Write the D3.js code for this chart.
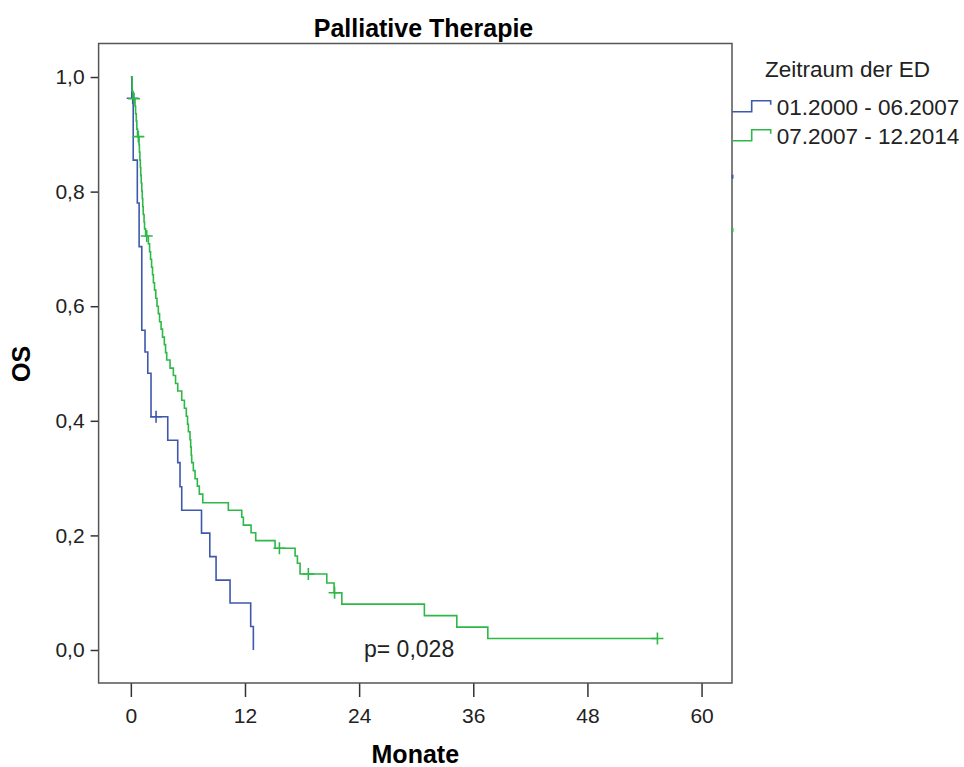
<!DOCTYPE html>
<html>
<head>
<meta charset="utf-8">
<script src="https://cdn.jsdelivr.net/npm/d3@7"></script>
<style>
  body { margin: 0; background: #fff; }
  svg { display: block; }
  text { font-family: "Liberation Sans", Arial, sans-serif; fill: #222; }
</style>
</head>
<body>
<svg id="chart" width="964" height="767"></svg>
<script>
// Kaplan–Meier estimates, overall survival (months) by period of first diagnosis
const groupNames = ["01.2000 - 06.2007", "07.2007 - 12.2014"];
const groupColors = ["#3E58AC", "#2EB848"];

// Group 1: 01.2000 - 06.2007 (event times and survival after each event)
const g1Times = [0.1, 0.25, 0.68, 0.87, 1.15, 1.49, 1.78, 2.12, 3.88, 4.93, 5.17, 5.35,
                 7.43, 8.3, 8.96, 10.43, 12.6, 12.88];
const g1Surv  = [0.963, 0.855, 0.78, 0.704, 0.558, 0.52, 0.483, 0.407, 0.366, 0.327, 0.285, 0.244,
                 0.204, 0.163, 0.122, 0.082, 0.041, 0];
const g1Censored = [0.2, 2.65];

// Group 2: 07.2007 - 12.2014
const g2Times = [0.13, 0.23, 0.44, 0.5, 0.57, 0.63, 0.7, 0.86, 0.9, 0.95, 1.0, 1.04, 1.09, 1.15,
                 1.2, 1.25, 1.3, 1.39, 1.44, 1.55, 1.84, 1.97, 2.07, 2.18, 2.28, 2.37, 2.49, 2.62,
                 2.75, 2.89, 3.02, 3.18, 3.33, 3.52, 3.65, 3.77, 4.12, 4.47, 4.7, 4.93, 5.35, 5.63,
                 5.83, 5.96, 6.05, 6.22, 6.29, 6.35, 6.4, 6.57, 6.75, 6.99, 7.2, 7.56, 10.25, 11.66,
                 11.83, 12.64, 13.13, 15.16, 17.27, 17.51, 17.79, 20.6, 21.37, 22.18, 30.86, 34.27, 37.53];
const g2Surv  = [0.975, 0.962, 0.949, 0.936, 0.923, 0.909, 0.896, 0.882, 0.869, 0.855, 0.842, 0.828,
                 0.815, 0.801, 0.788, 0.774, 0.76, 0.747, 0.735, 0.7225, 0.709, 0.695, 0.682, 0.668,
                 0.655, 0.641, 0.628, 0.614, 0.6, 0.587, 0.573, 0.56, 0.546, 0.533, 0.519, 0.506,
                 0.492, 0.479, 0.465, 0.452, 0.436, 0.422, 0.408, 0.394, 0.381, 0.367, 0.354, 0.34,
                 0.327, 0.313, 0.299, 0.286, 0.272, 0.257, 0.244, 0.2316, 0.218, 0.2047, 0.1908, 0.1775,
                 0.164, 0.1513, 0.1326, 0.117, 0.1, 0.08, 0.06, 0.04, 0.02];
const g2Censored = [0.34, 0.79, 1.67, 15.62, 18.66, 21.42, 55.36];

const xTicks = [0, 12, 24, 36, 48, 60];
const yTicks = [0, 0.2, 0.4, 0.6, 0.8, 1.0];

const chartTitle = "Palliative Therapie";
const xTitle = "Monate";
const yTitle = "OS";
const legendTitle = "Zeitraum der ED";
const pText = "p= 0,028";

const svg = d3.select("#chart");

// Plot frame in pixels; data domains extend slightly past the axis ranges
const frame = { left: 98.6, right: 732, top: 43.5, bottom: 683 };
const x = d3.scaleLinear().domain([-3.39, 63.2]).range([frame.left, frame.right]);
const y = d3.scaleLinear().domain([-0.0576, 1.0585]).range([frame.bottom, frame.top]);

// Title
svg.append("text")
  .attr("x", 423.5).attr("y", 37)
  .attr("text-anchor", "middle")
  .style("font-size", "25px").style("font-weight", "bold")
  .style("fill", "#000")
  .text(chartTitle);

// Axes
const xAxis = svg.append("g")
  .attr("transform", `translate(0,${frame.bottom})`)
  .call(d3.axisBottom(x).tickValues(xTicks).tickSize(14).tickSizeOuter(0).tickPadding(11)
        .tickFormat(d3.format("d")));
xAxis.select(".domain").remove();

const yAxis = svg.append("g")
  .attr("transform", `translate(${frame.left},0)`)
  .call(d3.axisLeft(y).tickValues(yTicks).tickSize(8).tickSizeOuter(0).tickPadding(6)
        .tickFormat(d => d.toFixed(1).replace(".", ",")));
yAxis.select(".domain").remove();

[xAxis, yAxis].forEach(g => {
  g.selectAll(".tick line").attr("stroke", "#333").attr("stroke-width", 1.5);
  g.selectAll(".tick text")
    .attr("font-family", null).attr("fill", "#222")
    .style("font-size", "21px");
});

// Frame
svg.append("rect")
  .attr("x", frame.left).attr("y", frame.top)
  .attr("width", frame.right - frame.left).attr("height", frame.bottom - frame.top)
  .attr("fill", "none").attr("stroke", "#555").attr("stroke-width", 1.5);

// Axis titles
svg.append("text")
  .attr("x", (frame.left + frame.right) / 2).attr("y", 763)
  .attr("text-anchor", "middle")
  .style("font-size", "25px").style("font-weight", "bold").style("fill", "#000")
  .text(xTitle);

svg.append("text")
  .attr("transform", "translate(30,364) rotate(-90)")
  .attr("text-anchor", "middle")
  .style("font-size", "25px").style("font-weight", "bold").style("fill", "#000")
  .text(yTitle);

// Survival curves
const groups = [
  { times: g1Times, surv: g1Surv, censored: g1Censored, end: g1Times[g1Times.length - 1] },
  { times: g2Times, surv: g2Surv, censored: g2Censored, end: d3.max(g2Censored) }
];

function survAt(g, t) {
  let s = 1;
  for (let i = 0; i < g.times.length; i++) { if (g.times[i] <= t) s = g.surv[i]; }
  return s;
}

const line = d3.line()
  .x(d => x(d[0])).y(d => y(d[1]))
  .curve(d3.curveStepAfter);

const plot = svg.append("g");
groups.forEach((g, i) => {
  const pts = [[0, 1]].concat(g.times.map((t, k) => [t, g.surv[k]]));
  if (g.end > pts[pts.length - 1][0]) pts.push([g.end, survAt(g, g.end)]);
  plot.append("path")
    .attr("d", line(pts))
    .attr("fill", "none")
    .attr("stroke", groupColors[i])
    .attr("stroke-width", 1.6);

  plot.selectAll(null)
    .data(g.censored)
    .enter().append("path")
    .attr("d", t => {
      const cx = x(t), cy = y(survAt(g, t));
      return `M${cx - 6},${cy}H${cx + 6}M${cx},${cy - 6}V${cy + 6}`;
    })
    .attr("stroke", groupColors[i])
    .attr("stroke-width", 1.6)
    .attr("fill", "none");
});

// p-value annotation
svg.append("text")
  .attr("x", 364).attr("y", 657)
  .style("font-size", "23px")
  .text(pText);

// Legend
const legend = svg.append("g");
legend.append("text")
  .attr("x", 765).attr("y", 77)
  .style("font-size", "22.5px")
  .text(legendTitle);

const legendRows = [111.7, 140.7];
groupNames.forEach((name, i) => {
  const by = legendRows[i];
  legend.append("path")
    .attr("d", `M${frame.right},${by}H751.7V${by - 11}H770.7V${by - 7}`)
    .attr("fill", "none")
    .attr("stroke", groupColors[i])
    .attr("stroke-width", 1.6);
  legend.append("text")
    .attr("x", 776.7).attr("y", by + 3)
    .style("font-size", "22.5px")
    .text(name);
});
// small series swatches on the right frame edge
[176.7, 230].forEach((yy, i) => {
  legend.append("rect")
    .attr("x", frame.right - 0.5).attr("y", yy - 2)
    .attr("width", 2).attr("height", 4)
    .attr("fill", groupColors[i]);
});
</script>
</body>
</html>
